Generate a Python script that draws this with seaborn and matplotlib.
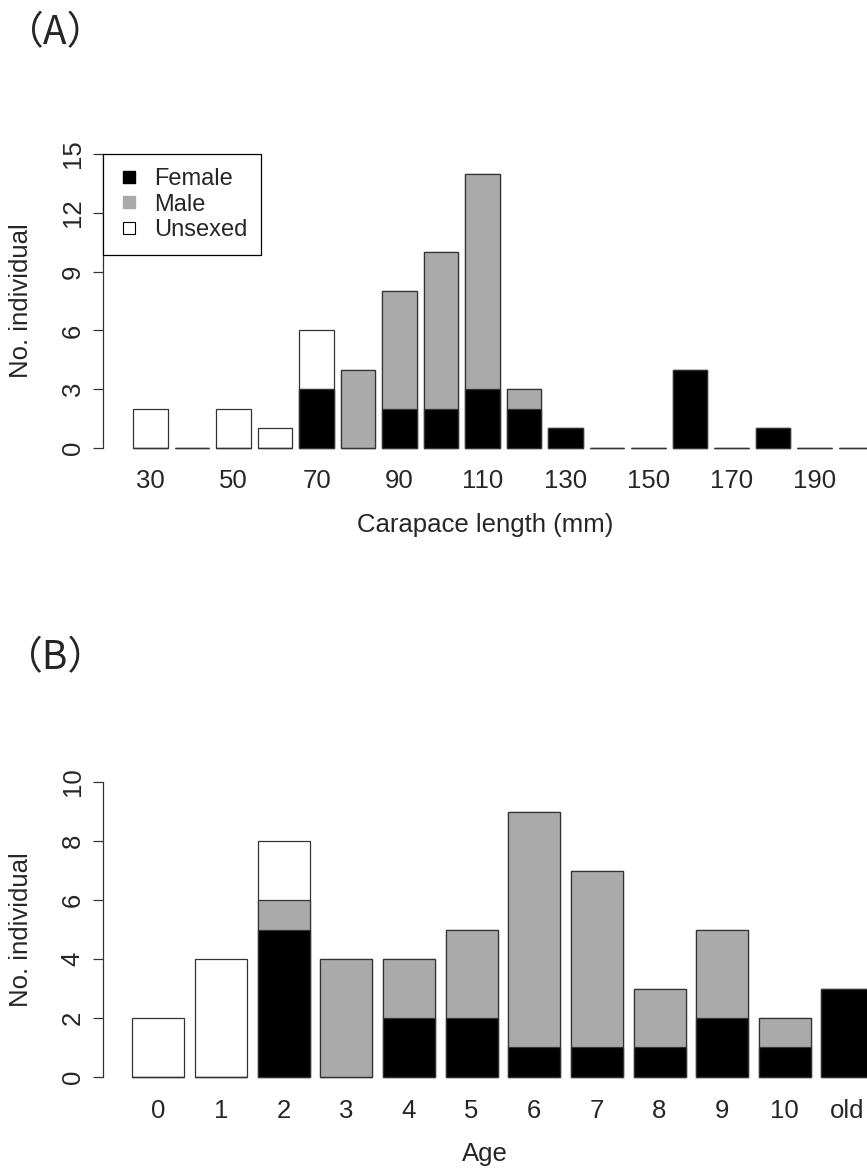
import matplotlib
matplotlib.use('Agg')
import matplotlib.pyplot as plt
from matplotlib.lines import Line2D
import seaborn as sns

# (A) carapace length classes (mm)
length_bins = ['30', '40', '50', '60', '70', '80', '90', '100', '110',
               '120', '130', '140', '150', '160', '170', '180', '190', '200']
female_a = [0, 0, 0, 0, 3, 0, 2, 2, 3, 2, 1, 0, 0, 4, 0, 1, 0, 0]
male_a = [0, 0, 0, 0, 0, 4, 6, 8, 11, 1, 0, 0, 0, 0, 0, 0, 0, 0]
unsexed_a = [2, 0, 2, 1, 3, 0, 0, 0, 0, 0, 0, 0, 0, 0, 0, 0, 0, 0]

# (B) age classes
age_labels = ['0', '1', '2', '3', '4', '5', '6', '7', '8', '9', '10', 'old']
female_b = [0, 0, 5, 0, 2, 2, 1, 1, 1, 2, 1, 3]
male_b = [0, 0, 1, 4, 2, 3, 8, 6, 2, 3, 1, 0]
unsexed_b = [2, 4, 2, 0, 0, 0, 0, 0, 0, 0, 0, 0]

EDGE = '#333333'
GREY = '#aaaaaa'


def main():

    sns.set_style('ticks')
    plt.rcParams['font.family'] = ['Liberation Sans', 'DejaVu Sans']

    fig = plt.figure(figsize=(8.67, 11.72), dpi=100)

    ax_a = fig.add_axes([0.1188, 0.6077, 0.8812, 0.2710])
    stacked(ax_a, length_bins, female_a, male_a, unsexed_a, 0.84)
    ax_a.set_xlim(-1.145, 17.265)
    ax_a.set_ylim(-0.6, 15.6)
    ax_a.set_yticks([0, 3, 6, 9, 12, 15])
    ax_a.spines['left'].set_bounds(0, 15)
    ax_a.set_xticks(range(0, 17, 2))
    ax_a.set_xticklabels(length_bins[0:17:2])
    style_axis(ax_a, 'Carapace length (mm)')

    handles = [Line2D([], [], ls='', marker='s', ms=8.5, mfc='black', mec='black'),
               Line2D([], [], ls='', marker='s', ms=8.5, mfc=GREY, mec=GREY),
               Line2D([], [], ls='', marker='s', ms=8.5, mfc='white', mec='black', mew=0.8)]
    leg = ax_a.legend(handles, ['Female', 'Male', 'Unsexed'], loc='upper left',
                      bbox_to_anchor=(-1.145, 15), bbox_transform=ax_a.transData,
                      borderaxespad=0, fancybox=False, framealpha=1, fontsize=17,
                      handlelength=1.0, handletextpad=0.55, labelspacing=0.15,
                      borderpad=0.6)
    leg.get_frame().set_edgecolor('black')
    leg.get_frame().set_linewidth(0.9)

    ax_b = fig.add_axes([0.1188, 0.0710, 0.8812, 0.2718])
    stacked(ax_b, age_labels, female_b, male_b, unsexed_b, 0.83)
    ax_b.set_xlim(-0.884, 11.312)
    ax_b.set_ylim(-0.4, 10.4)
    ax_b.set_yticks([0, 2, 4, 6, 8, 10])
    ax_b.spines['left'].set_bounds(0, 10)
    style_axis(ax_b, 'Age')

    fig.text(0.0646, 0.9715, '（A）', family=['Noto Sans CJK JP', 'DejaVu Sans'],
             fontsize=28, ha='center', va='center')
    fig.text(0.0646, 0.4383, '（B）', family=['Noto Sans CJK JP', 'DejaVu Sans'],
             fontsize=28, ha='center', va='center')

    plt.savefig('out.png', dpi=100)
    plt.close()


def stacked(ax, labels, female, male, unsexed, width):

    total = [f + m + u for f, m, u in zip(female, male, unsexed)]
    fem_male = [f + m for f, m in zip(female, male)]
    for values, colour in [(total, 'white'), (fem_male, GREY), (female, 'black')]:
        sns.barplot(x=labels, y=values, color=colour, saturation=1, width=width,
                    edgecolor=EDGE, linewidth=0.9, errorbar=None, ax=ax)


def style_axis(ax, xlabel):

    for side in ['top', 'right', 'bottom']:
        ax.spines[side].set_visible(False)
    ax.spines['left'].set_color(EDGE)
    ax.spines['left'].set_linewidth(0.9)
    ax.tick_params(axis='x', length=0, pad=7, labelsize=18.5)
    ax.tick_params(axis='y', length=7.2, width=0.9, color=EDGE, pad=6,
                   labelsize=18.5, labelrotation=90)
    for label in ax.get_yticklabels():
        label.set_va('center')
    ax.set_xlabel(xlabel, fontsize=18.5, labelpad=14)
    ax.set_ylabel('No. individual', fontsize=18.5)
    ax.yaxis.set_label_coords(-0.092, 0.5)


if __name__ == '__main__':
    main()
